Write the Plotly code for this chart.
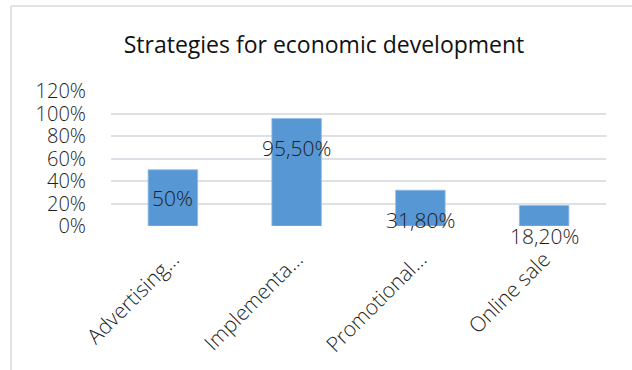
import plotly.graph_objects as go

# Chart data
categories = ["Advertising…", "Implementa…", "Promotional…", "Online sale"]
values = [0.50, 0.955, 0.318, 0.182]
value_labels = ["50%", "95,50%", "31,80%", "18,20%"]
y_ticks = [0, 0.2, 0.4, 0.6, 0.8, 1.0, 1.2]
y_tick_labels = ["0%", "20%", "40%", "60%", "80%", "100%", "120%"]

# Vertical centre of each data label (axis units)
label_y = [0.245, 0.69, 0.05, -0.085]

W, H = 632, 370
ML, MR, MT, MB = 111, 26, 91, 144
Y_MAX = 1.2
FONT = "Open Sans"
TXT = "#1e1e1e"

fig = go.Figure()
fig.add_trace(go.Bar(
    x=categories,
    y=values,
    marker=dict(color="#5797d4", line=dict(color="#8fbbe6", width=0.8)),
    width=0.4,
    hoverinfo="skip",
))

for cat, ly, txt in zip(categories, label_y, value_labels):
    fig.add_annotation(
        x=cat, y=ly / Y_MAX, xref="x", yref="paper", text=txt, showarrow=False,
        xanchor="center", yanchor="middle",
        font=dict(family=FONT, size=21, color=TXT, weight=300),
    )

# Outer chart frame (left and top edges)
pw = W - ML - MR
ph = H - MT - MB
def px_x(p):
    return (p - ML) / pw
def px_y(p):
    return (H - MB - p) / ph

frame = dict(color="#d9d9d9", width=1.5)
fig.add_shape(type="line", xref="paper", yref="paper",
              x0=px_x(11), x1=px_x(11), y0=px_y(6), y1=px_y(H + 5), line=frame)
fig.add_shape(type="line", xref="paper", yref="paper",
              x0=px_x(11), x1=px_x(W + 5), y0=px_y(6), y1=px_y(6), line=frame)

fig.update_layout(
    width=W, height=H,
    margin=dict(l=ML, r=MR, t=MT, b=MB, autoexpand=False),
    paper_bgcolor="white", plot_bgcolor="white",
    showlegend=False,
    title=dict(
        text="Strategies for economic development",
        x=324 / W, xanchor="center", xref="container",
        y=1 - 45 / H, yanchor="middle", yref="container",
        font=dict(family=FONT, size=23, color="#111111"),
    ),
    xaxis=dict(
        showgrid=False, showline=False, zeroline=False, ticks="",
        tickangle=-45,
        ticklabelstandoff=16,
        tickfont=dict(family=FONT, size=21, color=TXT, weight=300),
    ),
    yaxis=dict(
        range=[0, Y_MAX], tickvals=y_ticks, ticktext=y_tick_labels,
        showgrid=True, gridcolor="#dde1e6", gridwidth=1.5,
        zeroline=False, showline=False, ticks="",
        ticklabelstandoff=24,
        tickfont=dict(family=FONT, size=20, color=TXT, weight=300),
    ),
    bargap=0.6,
)

fig.write_html("out.html")
